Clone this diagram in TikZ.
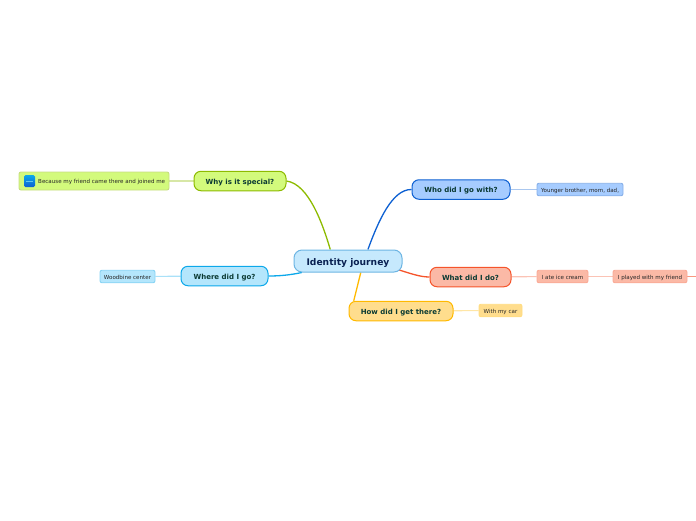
\documentclass[tikz,border=0pt]{standalone}
\usepackage{fontspec}
\setmainfont{DejaVu Sans}
\usepackage{xcolor}
\usepackage{tikz}
\usetikzlibrary{arrows.meta,positioning,calc,backgrounds}
\definecolor{rootfill}{HTML}{C6E9FD}
\definecolor{rootline}{HTML}{6DB5E3}
\definecolor{whyfill}{HTML}{D3FA7C}
\definecolor{whyline}{HTML}{8DBB00}
\definecolor{wherefill}{HTML}{B4E6FC}
\definecolor{whereline}{HTML}{0CA8EA}
\definecolor{whofill}{HTML}{A6CCFF}
\definecolor{wholine}{HTML}{0D60D2}
\definecolor{whatfill}{HTML}{FBB9A6}
\definecolor{whatline}{HTML}{F5542B}
\definecolor{howfill}{HTML}{FFDD8D}
\definecolor{howline}{HTML}{FFB900}
\definecolor{topictext}{HTML}{0B3A33}
\definecolor{roottext}{HTML}{0A2152}
\tikzset{
  root/.style   = {draw=rootline, fill=rootfill, line width=1pt, rounded corners=8pt,
                   inner sep=0pt, text height=8pt, text depth=0pt,
                   font=\bfseries\fontsize{9.15}{10}\selectfont, text=roottext},
  topic/.style  = {draw=#1line, fill=#1fill, line width=1pt, rounded corners=7pt,
                   inner sep=0pt, minimum height=19.5pt, text height=6.5pt, text depth=0pt,
                   font=\bfseries\fontsize{7}{8}\selectfont, text=topictext},
  leaf/.style   = {draw=#1line!50, fill=#1fill, line width=0.9pt, rounded corners=2pt,
                   inner sep=0pt, minimum height=12.5pt, text height=5.5pt, text depth=0pt,
                   font=\fontsize{5.55}{6}\selectfont, text=black!85},
  main/.style   = {draw=#1line, line width=1.3pt},
  twig/.style   = {draw=#1line!35, line width=1.1pt},
}
\begin{document}
\begin{tikzpicture}[x=1pt,y=-1pt]
\useasboundingbox (0,0) rectangle (696,520);
\node[root, minimum width=108pt, minimum height=22pt] (journey) at (348,261) {Identity journey};
% first level
\node[topic=why, minimum width=92pt] (why) at (240,181) {Why is it special?};
\node[topic=where, minimum width=87pt] (where) at (224.5,276) {Where did I go?};
\node[topic=who, minimum width=98pt] (who) at (461,189.5) {Who did I go with?};
\node[topic=what, minimum width=81pt] (what) at (470.5,277) {What did I do?};
\node[topic=how, minimum width=104pt] (how) at (401,311) {How did I get there?};
% second level
\node[leaf=why, minimum width=150pt, minimum height=18pt] (because) at (94,181) {};
\node[anchor=west, font=\fontsize{5.55}{6}\selectfont, text=black!85, inner sep=0pt] (becausetext) at (38,182) {Because my friend came there and joined me};
\node[rounded corners=1.5pt, top color=whereline, bottom color=wholine, minimum width=11pt, minimum height=12pt, inner sep=0pt] (icon) at (29.5,181) {};
\draw[white!35!whereline, line width=0.5pt] ($(icon.west)+(2,0)$) -- ($(icon.east)+(-2,0)$);
\node[leaf=where, minimum width=55pt] (woodbine) at (127.5,276.5) {Woodbine center};
\node[leaf=who, minimum width=86pt] (younger) at (580,189.5) {Younger brother, mom, dad,};
\node[leaf=what, minimum width=51pt] (icecream) at (562.5,276.5) {I ate ice cream};
\node[leaf=what, minimum width=74pt] (played) at (650,276.5) {I played with my friend};
\node[leaf=how, minimum width=43pt] (car) at (500.5,310.5) {With my car};
\coordinate (offpage) at (696,276.5);
% branches
\begin{pgfonlayer}{background}
\draw[main=why] (journey.147) .. controls (323,225) and (309,184) .. (why.east);
\draw[main=where] (journey.194) .. controls (290,275) and (280,276) .. (where.east);
\draw[main=who] (journey.30) .. controls (378,222) and (392,189) .. (who.west);
\draw[main=what] (journey.center) .. controls (390,262) and (410,277) .. (what.west);
\draw[main=how] (journey.-42) -- ($(how.north west)!0.05!(how.north east)$);
\draw[twig=why] (why) -- (because);
\draw[twig=where] (where) -- (woodbine);
\draw[twig=who] (who) -- (younger);
\draw[twig=what] (what) -- (icecream);
\draw[twig=what] (icecream) -- (played);
\draw[draw=whatline!60, line width=1.1pt] (played) -- (offpage);
\draw[twig=how] (how) -- (car);
\end{pgfonlayer}
\end{tikzpicture}
\end{document}
